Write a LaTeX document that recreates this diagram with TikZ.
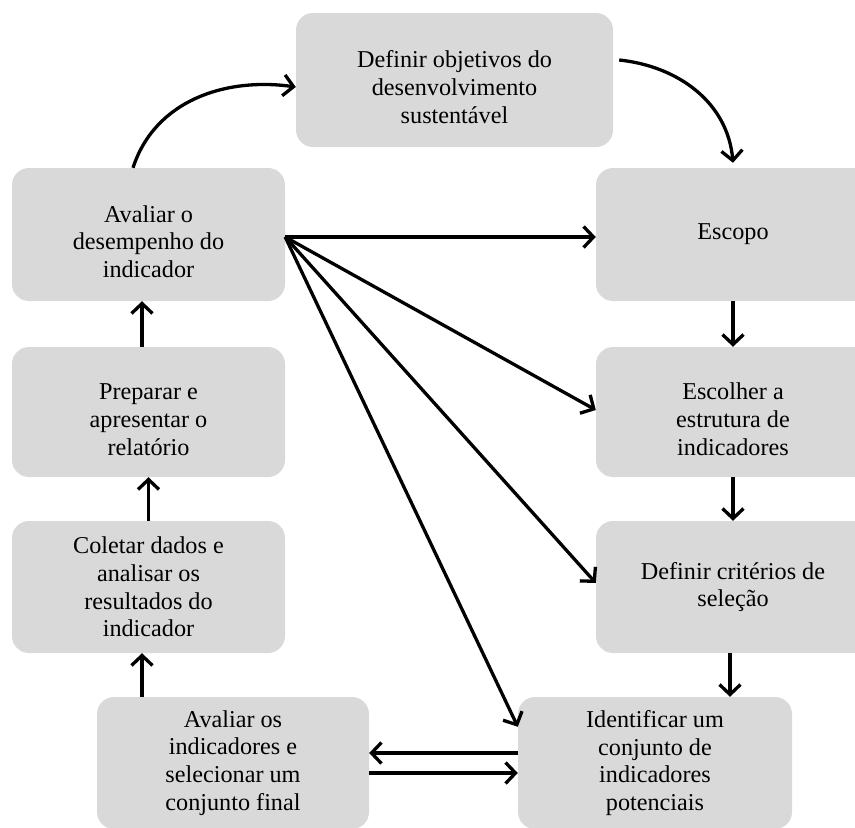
\documentclass[tikz,border=0pt]{standalone}
\usepackage{fontspec}
\setmainfont{Liberation Serif}
\usetikzlibrary{arrows.meta}
\definecolor{boxgray}{HTML}{D9D9D9}
% taller first line pushes a three-line label a little below the box centre
\newcommand\dropline{\rule{0pt}{31pt}}
\begin{document}
\begin{tikzpicture}[x=1pt,y=-1pt,
  stepbox/.style={rectangle, rounded corners=17pt, fill=boxgray, align=center,
    font=\fontsize{24.2}{27.8}\selectfont, inner sep=0pt,
    minimum width=274pt, minimum height=132pt},
  flow/.style={line width=3.3pt, -{Straight Barb[length=10pt,width=21pt]}}
]
\useasboundingbox (0,0) rectangle (855,828);

% process steps
\node[stepbox, minimum width=317pt, minimum height=134pt] (obj) at (454.5,80)
  {\dropline Definir objetivos do\\desenvolvimento\\sustentável};
\node[stepbox, minimum width=273pt, minimum height=133pt] (aval) at (148.5,234.5)
  {\dropline Avaliar o\\desempenho do\\indicador};
\node[stepbox, minimum height=133pt] (esc) at (733,234.5) {Escopo};
\node[stepbox, minimum width=273pt, minimum height=130pt] (prep) at (148.5,412)
  {\dropline Preparar e\\apresentar o\\relatório};
\node[stepbox, minimum height=130pt] (escol) at (733,412)
  {\dropline Escolher a\\estrutura de\\indicadores};
\node[stepbox, minimum width=273pt] (colet) at (148.5,587)
  {Coletar dados e\\analisar os\\resultados do\\indicador};
\node[stepbox] (crit) at (733,587) {Definir critérios de\\seleção};
\node[stepbox, minimum width=272pt] (avalos) at (233,763)
  {Avaliar os\\indicadores e\\selecionar um\\conjunto final};
\node[stepbox] (ident) at (655,763)
  {Identificar um\\conjunto de\\indicadores\\potenciais};

% cycle arcs at the top
\draw[flow] ([xshift=-15.5pt]aval.north) to[out=72,in=172] ([yshift=-7pt]obj.west);
\draw[flow] ([xshift=6pt,yshift=20pt]obj.east) to[out=-6,in=95] ([yshift=5pt]esc.north);

% fan of arrows from the performance review
\coordinate (hub) at ([yshift=-2.5pt]aval.east);
\draw[flow] (hub) -- (hub -| esc.west);
\draw[flow] (hub) -- ([yshift=2pt]escol.west);
\draw[flow] (hub) -- ([yshift=4pt]crit.west);
\draw[flow] (hub) -- ([yshift=-30pt]ident.north west);

% right column, downwards
\draw[flow] (esc.south) -- (escol.north);
\draw[flow] (escol.south) -- (crit.north);
\draw[flow] ([xshift=-3pt]crit.south) -- ([xshift=-3pt]crit.south |- ident.north);

% left column, upwards
\draw[flow] ([xshift=-6.5pt]colet.south |- avalos.north) -- ([xshift=-6.5pt]colet.south);
\draw[flow] (colet.north) -- (prep.south);
\draw[flow] ([xshift=-6.5pt]prep.north) -- ([xshift=-6.5pt]aval.south);

% exchange between the two bottom steps
\draw[flow] ([yshift=10pt]ident.west) -- ([yshift=10pt]avalos.east);
\draw[flow] ([yshift=-10pt]avalos.east) -- ([yshift=-10pt]ident.west);
\end{tikzpicture}
\end{document}
